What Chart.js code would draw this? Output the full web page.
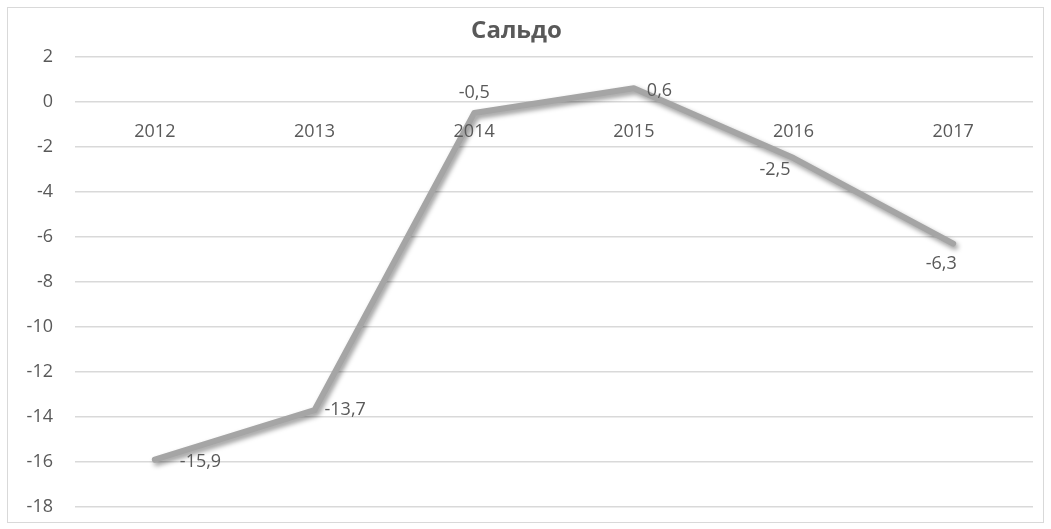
<!DOCTYPE html>
<html>
<head>
<meta charset="utf-8">
<script src="https://cdn.jsdelivr.net/npm/chart.js@4/dist/chart.umd.min.js"></script>
<style>
  html, body { margin: 0; padding: 0; background: #fff; }
  canvas { display: block; }
</style>
</head>
<body>
<canvas id="chart-saldo" width="1051" height="529"></canvas>
<script>
const years = ["2012", "2013", "2014", "2015", "2016", "2017"];
const saldo = [-15.9, -13.7, -0.5, 0.6, -2.5, -6.3];
const yTicks = [2, 0, -2, -4, -6, -8, -10, -12, -14, -16, -18];

// label placement next to each point: [dx, dy, align]
const labelPlace = [
  [25, 2, "left"],
  [10, 0, "left"],
  [0, -20, "center"],
  [13, 3, "left"],
  [-3, 12, "right"],
  [-12, 20, "center"],
];

const textColor = "#595959";
const fontFamily = "'Open Sans', 'Liberation Sans', sans-serif";

const frame = {
  id: "frame",
  beforeDraw(chart) {
    const ctx = chart.ctx;
    ctx.save();
    ctx.strokeStyle = "#d9d9d9";
    ctx.lineWidth = 1;
    ctx.strokeRect(7.5, 7.5, 1036, 515);
    ctx.restore();
  },
};

// category labels sit just under the zero line, as in Excel
const zeroAxisLabels = {
  id: "zeroAxisLabels",
  afterDraw(chart) {
    const ctx = chart.ctx;
    const x = chart.scales.x;
    const y0 = chart.scales.y.getPixelForValue(0);
    ctx.save();
    ctx.font = "18px " + fontFamily;
    ctx.fillStyle = textColor;
    ctx.textAlign = "center";
    ctx.textBaseline = "middle";
    years.forEach((yr, i) => {
      ctx.fillText(yr, x.getPixelForValue(i), y0 + 30);
    });
    ctx.restore();
  },
};

const lineShadow = {
  id: "lineShadow",
  beforeDatasetsDraw(chart) {
    const ctx = chart.ctx;
    ctx.save();
    ctx.shadowColor = "rgba(0,0,0,0.4)";
    ctx.shadowBlur = 5;
    ctx.shadowOffsetX = 2;
    ctx.shadowOffsetY = 3;
  },
  afterDatasetsDraw(chart) {
    chart.ctx.restore();
  },
};

const valueLabels = {
  id: "valueLabels",
  afterDatasetsDraw(chart) {
    const ctx = chart.ctx;
    const meta = chart.getDatasetMeta(0);
    ctx.save();
    ctx.font = "18px " + fontFamily;
    ctx.fillStyle = textColor;
    ctx.textBaseline = "middle";
    meta.data.forEach((pt, i) => {
      const [dx, dy, align] = labelPlace[i];
      ctx.textAlign = align;
      ctx.fillText(String(saldo[i]).replace(".", ","), pt.x + dx, pt.y + dy);
    });
    ctx.restore();
  },
};

new Chart(document.getElementById("chart-saldo"), {
  type: "line",
  data: {
    labels: years,
    datasets: [
      {
        label: "Сальдо",
        data: saldo,
        borderColor: "#a5a5a5",
        borderWidth: 6,
        borderCapStyle: "round",
        borderJoinStyle: "round",
        pointRadius: 0,
        tension: 0,
        fill: false,
      },
    ],
  },
  options: {
    responsive: false,
    animation: false,
    layout: { padding: { left: 0, right: 18, top: 0, bottom: 22 } },
    plugins: {
      legend: { display: false },
      tooltip: { enabled: false },
      title: {
        display: true,
        text: "Сальдо",
        color: textColor,
        font: { family: fontFamily, size: 24, weight: "bold", lineHeight: 1.2 },
        padding: { top: 17, bottom: 11 },
      },
    },
    scales: {
      x: {
        display: false,
        offset: true,
      },
      y: {
        min: -18,
        max: 2,
        afterBuildTicks: (scale) => {
          scale.ticks = yTicks.map((v) => ({ value: v }));
        },
        afterFit: (scale) => {
          scale.width = 75;
          scale.paddingTop = 0;
          scale.paddingBottom = 0;
        },
        grid: { color: "#d9d9d9", lineWidth: 1.5, drawTicks: false },
        border: { display: false },
        ticks: {
          color: textColor,
          font: { family: fontFamily, size: 18 },
          padding: 22,
        },
      },
    },
  },
  plugins: [frame, lineShadow, valueLabels, zeroAxisLabels],
});
</script>
</body>
</html>
